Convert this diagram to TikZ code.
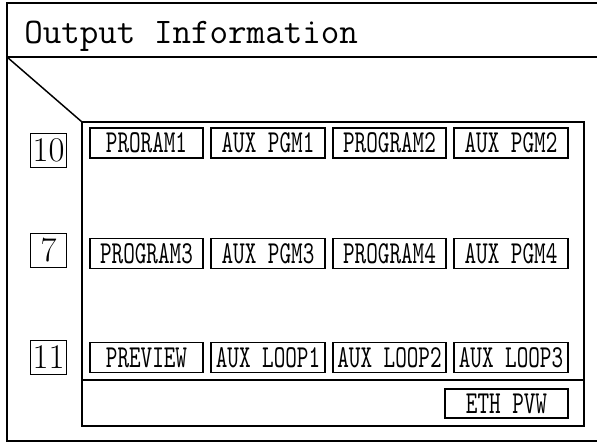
\documentclass[tikz,border=0pt]{standalone}
\usepackage{fontspec}
\newfontfamily\btnfont{lmmono10-regular.otf}[FakeStretch=0.69]
\tikzset{
    frame/.style={line width=1.4pt},
    btn/.style={draw, line width=1.4pt, inner sep=0pt, minimum width=85pt, minimum height=22.5pt,
        font=\btnfont\fontsize{24}{24}\selectfont},
    numbox/.style={draw, line width=0.7pt, inner sep=0pt, minimum width=27pt, minimum height=25.5pt,
        font=\rmfamily\fontsize{26}{26}\selectfont},
}

\begin{document}
\begin{tikzpicture}[x=0.75pt, y=-0.75pt]
    \useasboundingbox (0, 0) rectangle (597, 443);

    % outer frame, open to the right
    \draw[frame] (597, 3) -- (7, 3) -- (7, 441) -- (597, 441);
    \draw[frame] (7, 57) -- (597, 57);
    \node[anchor=base west, inner sep=0pt, font=\ttfamily\fontsize{27}{27}\selectfont] (title) at (24, 43) {Output Information};

    % panel
    \coordinate (cut) at (7, 57);
    \coordinate (pnw) at (82, 122);
    \draw[frame] (pnw) rectangle (584, 426);
    \draw[frame] (82, 380) -- (584, 380);
    \draw[line width=1.1pt] (cut) -- (pnw);

    \node[numbox] (n10) at (48.5, 150.5) {10};
    \node[numbox] (n7)  at (48.5, 250.5) {7};
    \node[numbox] (n11) at (48.5, 357.5) {11};

    \node[btn] (p1) at (146.5, 143) {PRORAM1};
    \node[btn] (a1) at (268, 143)   {AUX PGM1};
    \node[btn] (p2) at (389.5, 143) {PROGRAM2};
    \node[btn] (a2) at (511, 143)   {AUX PGM2};

    \node[btn] (p3) at (146.5, 253.5) {PROGRAM3};
    \node[btn] (a3) at (268, 253.5)   {AUX PGM3};
    \node[btn] (p4) at (389.5, 253.5) {PROGRAM4};
    \node[btn] (a4) at (511, 253.5)   {AUX PGM4};

    \node[btn] (pvw) at (146.5, 357.5) {PREVIEW};
    \node[btn] (l1)  at (268, 357.5)   {AUX LOOP1};
    \node[btn] (l2)  at (389.5, 357.5) {AUX LOOP2};
    \node[btn] (l3)  at (511, 357.5)   {AUX LOOP3};

    \node[btn, minimum width=92pt, minimum height=22pt] (eth) at (506.5, 403.5) {ETH PVW};
\end{tikzpicture}
\end{document}
